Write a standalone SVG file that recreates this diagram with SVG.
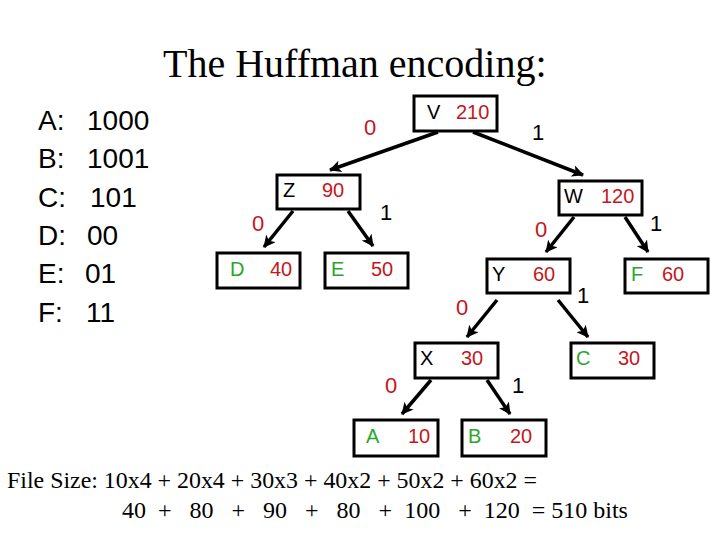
<svg xmlns="http://www.w3.org/2000/svg" width="720" height="540" viewBox="0 0 720 540">
<defs>
<marker id="ah" viewBox="0 0 12 12" refX="11" refY="6" markerWidth="12" markerHeight="12" markerUnits="userSpaceOnUse" orient="auto">
<path d="M0,0 L12,6 L0,12 L3,6 z" fill="#000"/>
</marker>
<style>
.box{fill:#fff;stroke:#000;stroke-width:3}
.nt{font-family:"Liberation Sans",Arial,sans-serif;font-size:20px}
.k{fill:#000}.r{fill:#C4161C}.g{fill:#2BA62B}
.el{font-family:"Liberation Sans",Arial,sans-serif;font-size:22px}
.edge{stroke:#000;stroke-width:3.5;fill:none;marker-end:url(#ah)}
.tm{font-family:"Liberation Serif","Times New Roman",serif;fill:#000}
.code{font-family:"Liberation Sans",Arial,sans-serif;font-size:28px;fill:#000}
</style>
</defs>
<rect width="720" height="540" fill="#fff"/>
<text class="tm" x="163" y="77" font-size="40">The Huffman encoding:</text>
<g id="codes">
<text class="code" x="38" y="130">A:</text><text class="code" x="87" y="130">1000</text>
<text class="code" x="38" y="168">B:</text><text class="code" x="87" y="168">1001</text>
<text class="code" x="38" y="207">C:</text><text class="code" x="90" y="207">101</text>
<text class="code" x="38" y="245">D:</text><text class="code" x="87" y="245">00</text>
<text class="code" x="38" y="283">E:</text><text class="code" x="85" y="283">01</text>
<text class="code" x="38" y="322">F:</text><text class="code" x="86" y="322">11</text>
</g>
<g id="connectors">
<line class="edge" x1="438" y1="132" x2="330" y2="170"/>
<line class="edge" x1="473" y1="132" x2="583" y2="175"/>
<line class="edge" x1="293" y1="211" x2="264" y2="247"/>
<line class="edge" x1="348" y1="211" x2="373" y2="246"/>
<line class="edge" x1="574" y1="217" x2="546" y2="252"/>
<line class="edge" x1="625" y1="217" x2="648" y2="252"/>
<line class="edge" x1="497" y1="300" x2="467" y2="337"/>
<line class="edge" x1="558" y1="300" x2="588" y2="337"/>
<line class="edge" x1="431" y1="380" x2="402" y2="414"/>
<line class="edge" x1="487" y1="380" x2="510" y2="414"/>
<text class="el r" x="364" y="135">0</text>
<text class="el k" x="532" y="140">1</text>
<text class="el r" x="252" y="231">0</text>
<text class="el k" x="380" y="220">1</text>
<text class="el r" x="535" y="237">0</text>
<text class="el k" x="650" y="231">1</text>
<text class="el r" x="456" y="315">0</text>
<text class="el k" x="577" y="303">1</text>
<text class="el r" x="385" y="393">0</text>
<text class="el k" x="512" y="393">1</text>
</g>
<g id="V"><rect class="box" x="414" y="96" width="83" height="35"/><text class="nt k" x="427" y="119">V</text><text class="nt r" x="456" y="119">210</text></g>
<g id="Z"><rect class="box" x="277" y="175" width="83" height="34"/><text class="nt k" x="283" y="197">Z</text><text class="nt r" x="322" y="197">90</text></g>
<g id="D"><rect class="box" x="217" y="253" width="83" height="35"/><text class="nt g" x="230" y="276">D</text><text class="nt r" x="270" y="276">40</text></g>
<g id="E"><rect class="box" x="325" y="253" width="83" height="35"/><text class="nt g" x="331" y="276">E</text><text class="nt r" x="371" y="276">50</text></g>
<g id="W"><rect class="box" x="559" y="181" width="83" height="34"/><text class="nt k" x="564" y="203">W</text><text class="nt r" x="601" y="203">120</text></g>
<g id="Y"><rect class="box" x="487" y="259" width="83" height="34"/><text class="nt k" x="492" y="281">Y</text><text class="nt r" x="533" y="281">60</text></g>
<g id="F"><rect class="box" x="625" y="259" width="83" height="34"/><text class="nt g" x="631" y="281">F</text><text class="nt r" x="662" y="281">60</text></g>
<g id="X"><rect class="box" x="415" y="343" width="83" height="35"/><text class="nt k" x="420" y="365">X</text><text class="nt r" x="461" y="365">30</text></g>
<g id="C"><rect class="box" x="571" y="343" width="83" height="35"/><text class="nt g" x="576" y="365">C</text><text class="nt r" x="618" y="365">30</text></g>
<g id="A"><rect class="box" x="354" y="420" width="84" height="36"/><text class="nt g" x="366" y="443">A</text><text class="nt r" x="408" y="443">10</text></g>
<g id="B"><rect class="box" x="462" y="420" width="84" height="36"/><text class="nt g" x="468" y="443">B</text><text class="nt r" x="510" y="443">20</text></g>
<text class="tm" x="7" y="488" font-size="24" textLength="530" lengthAdjust="spacingAndGlyphs">File Size: 10x4 + 20x4 + 30x3 + 40x2 + 50x2 + 60x2 =</text>
<text class="tm" x="122" y="518" font-size="24" xml:space="preserve">40  +   80   +   90   +   80   +  100   +  120  = 510 bits</text>
</svg>
